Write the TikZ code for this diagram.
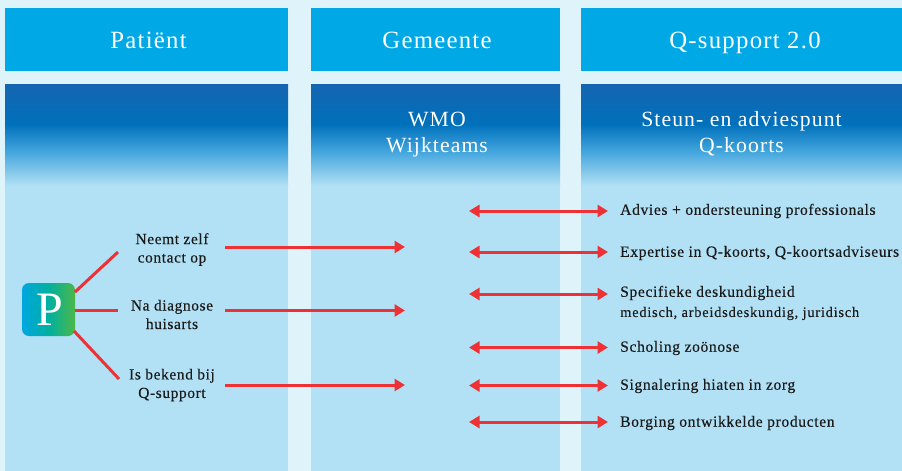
\documentclass[tikz,border=0pt]{standalone}
\usepackage{fontspec}
\setmainfont{Liberation Serif}
\newfontfamily\headfont[LetterSpace=5]{Liberation Serif}
\newfontfamily\bodyfont[FakeBold=0.3,LetterSpace=4]{Liberation Serif}
\newfontfamily\smallfont[FakeBold=0.1,LetterSpace=5]{Liberation Serif}
\usetikzlibrary{arrows.meta}
\definecolor{pagebg}{HTML}{DFF3FB}
\definecolor{headblue}{HTML}{00A8E6}
\definecolor{bodyblue}{HTML}{B2E1F5}
\definecolor{arrowred}{HTML}{EE3135}
\definecolor{inktext}{HTML}{1A1A1A}
\definecolor{gradmid}{HTML}{3FA3DC}
\definecolor{gradstrong}{HTML}{0070BB}
\definecolor{gradtop}{HTML}{1565B0}
\definecolor{pleft}{HTML}{00A7E1}
\definecolor{pmid}{HTML}{00B0A0}
\definecolor{pright}{HTML}{4DB748}
% TikZ fits the path's box to the central 25bp..75bp of an axis shading
\pgfdeclareverticalshading{bodyshade}{100bp}{
 color(0bp)=(bodyblue);
 color(25bp)=(bodyblue);
 color(42.6bp)=(gradmid);
 color(55.4bp)=(gradstrong);
 color(75bp)=(gradtop);
 color(100bp)=(gradtop)}
\pgfdeclarehorizontalshading{pshade}{100bp}{
 color(0bp)=(pleft);
 color(25bp)=(pleft);
 color(50bp)=(pmid);
 color(75bp)=(pright);
 color(100bp)=(pright)}
\tikzset{
 x=1pt,y=-1pt,
 headbox/.style={fill=headblue,draw=none},
 bodybox/.style={fill=bodyblue,draw=none},
 headtext/.style={text=white,font=\headfont\fontsize{24.8}{27}\selectfont,align=center,inner sep=0pt,anchor=base},
 subtext/.style={text=white,font=\headfont\fontsize{21.7}{26}\selectfont,align=center,inner sep=0pt},
 midtext/.style={text=inktext,font=\bodyfont\fontsize{15.4}{18.5}\selectfont,align=center,inner sep=0pt},
 righttext/.style={text=inktext,font=\bodyfont\fontsize{15.6}{18.5}\selectfont,align=left,anchor=west,inner sep=0pt},
 redline/.style={draw=arrowred,line width=3pt},
 onearrow/.style={redline,-{Triangle[length=10.5pt,width=12pt]}},
 twoarrow/.style={redline,{Triangle[length=10.5pt,width=12pt]}-{Triangle[length=10.5pt,width=12pt]}},
}
\begin{document}
\begin{tikzpicture}
\useasboundingbox (0,0) rectangle (902,471);
\fill[pagebg] (0,0) rectangle (902,471);
% columns
\foreach \xa/\xb in {5/288,311/560,581/902}{
  \fill[headbox] (\xa,8) rectangle (\xb,71);
  \fill[bodybox] (\xa,84) rectangle (\xb,471);
  \shade[shading=bodyshade] (\xa,84) rectangle (\xb,186);
}
% headers
\node[headtext] (h1) at (148.5,48) {Patiënt};
\node[headtext] (h2) at (437,48) {Gemeente};
\node[headtext] (h3) at (745,48) {Q-support 2.0};
\node[subtext] (s2) at (437,134.5) {WMO\\Wijkteams};
\node[subtext] (s3) at (741.5,133.5) {Steun- en adviespunt\\Q-koorts};
% patient box
\shade[shading=pshade,rounded corners=7pt] (22,283) rectangle (75,336);
\node[inner sep=0pt,minimum width=53pt,minimum height=53pt] (P) at (48.5,309.5) {};
\node[text=white,font=\fontsize{48}{48}\selectfont,inner sep=0pt] (Pl) at (49.5,309.5) {P};
% middle labels
\node[midtext] (m1) at (172,249.5) {Neemt zelf\\contact op};
\node[midtext] (m2) at (172,314.5) {Na diagnose\\huisarts};
\node[midtext] (m3) at (172,385) {Is bekend bij\\Q-support};
% coordinates
\coordinate (pa) at (75,292);
\coordinate (pb) at (75,310.5);
\coordinate (pc) at (74,331);
\coordinate (qa) at (118,252);
\coordinate (qb) at (118,310.5);
\coordinate (qc) at (119,379);
\draw[redline] (pa) -- (qa);
\draw[redline] (pb) -- (qb);
\draw[redline] (pc) -- (qc);
\foreach \n/\y in {a/247,b/310.5,c/385}{
  \coordinate (s\n) at (225,\y);
  \coordinate (e\n) at (405,\y);
  \draw[onearrow] (s\n) -- (e\n);
}
\foreach \n/\y in {1/211,2/252,3/294,4/347.5,5/385.5,6/422}{
  \coordinate (l\n) at (469,\y);
  \coordinate (r\n) at (608,\y);
  \draw[twoarrow] (l\n) -- (r\n);
}
% right labels
\node[righttext] (t1) at (620,211) {Advies + ondersteuning professionals};
\node[righttext] (t2) at (620,253) {Expertise in Q-koorts, Q-koortsadviseurs};
\node[righttext] (t3) at (620,293) {Specifieke deskundigheid};
\node[righttext,font=\smallfont\fontsize{14.5}{18.5}\selectfont] (t3b) at (620,313.5) {medisch, arbeidsdeskundig, juridisch};
\node[righttext] (t4) at (620,348) {Scholing zoönose};
\node[righttext] (t5) at (620,386) {Signalering hiaten in zorg};
\node[righttext] (t6) at (620,423) {Borging ontwikkelde producten};
\end{tikzpicture}
\end{document}
